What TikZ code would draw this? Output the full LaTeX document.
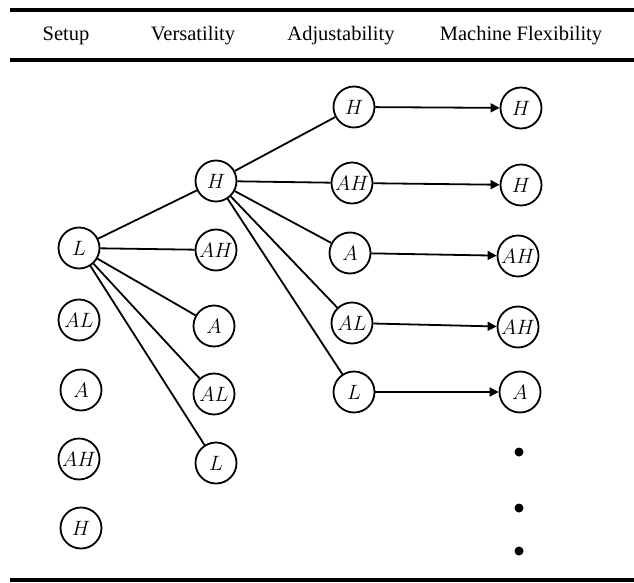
\documentclass[tikz,border=0pt]{standalone}
\usepackage{fontspec}
\setmainfont{Liberation Serif}
\usetikzlibrary{arrows.meta}
\begin{document}
\begin{tikzpicture}[x=1pt,y=-1pt,
  st/.style={circle,draw,line width=1.8pt,minimum size=41pt,inner sep=0pt,font=\fontsize{22}{22}\selectfont},
  ln/.style={line width=1.8pt},
  ar/.style={line width=1.8pt,-{Triangle[length=9pt,width=9pt]}},
  hd/.style={font=\fontsize{20.5}{24}\selectfont},
  rule/.style={line width=3.5pt}]
\useasboundingbox (0,0) rectangle (634,583);
% rules
\coordinate (t1) at (10,10); \coordinate (t2) at (634,10);
\coordinate (m1) at (10,60); \coordinate (m2) at (634,60);
\coordinate (b1) at (10,580); \coordinate (b2) at (634,580);
\draw[rule] (t1) -- (t2);
\draw[rule] (m1) -- (m2);
\draw[rule] (b1) -- (b2);
% headers
\node[hd] (h1) at (66,36) {Setup};
\node[hd] (h2) at (193,36) {Versatility};
\node[hd] (h3) at (341,36) {Adjustability};
\node[hd] (h4) at (521,36) {Machine Flexibility};
% column 1
\node[st] (a1) at (79,248) {$L$};
\node[st] (a2) at (79,320) {$AL$};
\node[st] (a3) at (81,390) {$A$};
\node[st] (a4) at (79,459) {$AH$};
\node[st] (a5) at (81,528) {$H$};
% column 2
\node[st] (b1n) at (216,181) {$H$};
\node[st] (b2n) at (216,250) {$AH$};
\node[st] (b3n) at (214,326) {$A$};
\node[st] (b4n) at (214,394) {$AL$};
\node[st] (b5n) at (216,463) {$L$};
% column 3
\node[st] (c1) at (354,107) {$H$};
\node[st] (c2) at (352,183) {$AH$};
\node[st] (c3) at (350,253) {$A$};
\node[st] (c4) at (352,323) {$AL$};
\node[st] (c5) at (354,392) {$L$};
% column 4
\node[st] (d1) at (521,108) {$H$};
\node[st] (d2) at (521,185) {$H$};
\node[st] (d3) at (518,256) {$AH$};
\node[st] (d4) at (518,327) {$AH$};
\node[st] (d5) at (520,392) {$A$};
% dots
\fill (519,452) circle (4.5pt);
\fill (519,508) circle (4.5pt);
\fill (519,551) circle (4.5pt);
% edges
\foreach \t in {b1n,b2n,b3n,b4n,b5n} \draw[ln] (a1) -- (\t);
\foreach \t in {c1,c2,c3,c4,c5} \draw[ln] (b1n) -- (\t);
\draw[ar] (c1) -- (d1);
\draw[ar] (c2) -- (d2);
\draw[ar] (c3) -- (d3);
\draw[ar] (c4) -- (d4);
\draw[ar] (c5) -- (d5);
\end{tikzpicture}
\end{document}
